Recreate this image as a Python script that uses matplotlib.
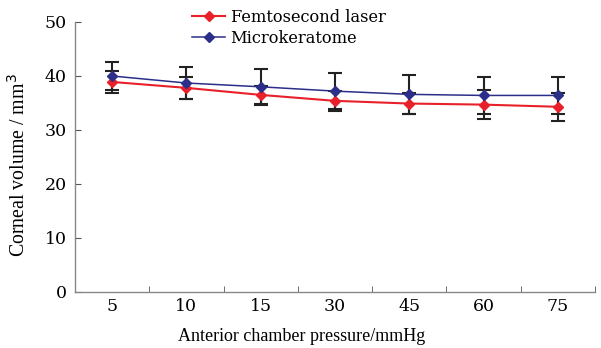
import matplotlib
matplotlib.use("Agg")
import matplotlib.pyplot as plt
import numpy as np

pressure = ['5', '10', '15', '30', '45', '60', '75']
femto = [38.9, 37.8, 36.5, 35.4, 34.9, 34.7, 34.3]
femto_sd = [2.1, 2.1, 1.7, 1.9, 2.0, 2.7, 2.6]
micro = [40.0, 38.7, 38.0, 37.2, 36.6, 36.4, 36.4]
micro_sd = [2.6, 3.0, 3.3, 3.4, 3.6, 3.4, 3.4]

plt.rcParams['font.family'] = ['DejaVu Serif']
label_font = ['Liberation Serif', 'DejaVu Serif']

fig = plt.figure(figsize=(6.01, 3.48), dpi=100)
ax = fig.add_axes([75 / 601, 56 / 348, 520 / 601, 270 / 348])

x = np.arange(len(pressure)) + 0.5

ax.errorbar(x, femto, yerr=femto_sd, fmt='none', ecolor='#222222', elinewidth=1.5, capsize=5, capthick=1.5, zorder=2)
ax.errorbar(x, micro, yerr=micro_sd, fmt='none', ecolor='#222222', elinewidth=1.5, capsize=5, capthick=1.5, zorder=2)
ax.plot(x, femto, color='#e8202a', marker='D', markersize=5, linewidth=1.5, label='Femtosecond laser', zorder=3)
ax.plot(x, micro, color='#2b2f8a', marker='D', markersize=5, linewidth=1.1, label='Microkeratome', zorder=3)

ax.set_xlim(0, 7)
ax.set_ylim(0, 50)
ax.set_yticks(range(0, 51, 10))
ax.set_xticks(x)
ax.set_xticklabels(pressure)
ax.set_xticks(np.arange(1, 8), minor=True)
ax.tick_params(axis='x', which='major', length=0, pad=4, labelsize=12.5)
ax.tick_params(axis='x', which='minor', direction='in', length=4, color='#555555')
ax.tick_params(axis='y', direction='in', length=4, color='#555555', labelsize=12.5, pad=6)

for s in ['top', 'right']:
    ax.spines[s].set_visible(False)
for s in ['left', 'bottom']:
    ax.spines[s].set_color('#888888')
    ax.spines[s].set_linewidth(1.0)

ax.set_xlabel('Anterior chamber pressure/mmHg', fontsize=13, family=label_font)
ax.xaxis.set_label_coords(0.435, -0.135)
ax.set_ylabel('Corneal volume / mm$^3$', fontsize=14.3, family=label_font)
ax.yaxis.set_label_coords(-0.086, 0.47)

ax.legend(loc='upper left', bbox_to_anchor=(0.21, 1.079), frameon=False, fontsize=11.7,
          handlelength=2.0, handletextpad=0.35, labelspacing=0.25, borderpad=0)

fig.savefig('out.png', dpi=100)
